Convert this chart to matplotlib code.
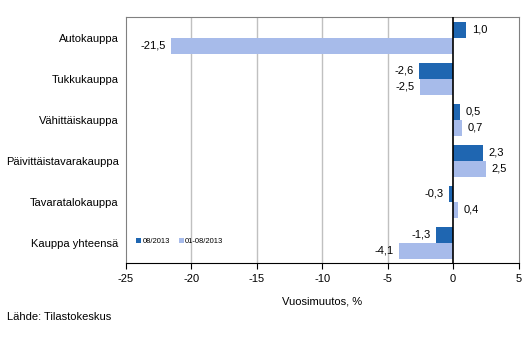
import matplotlib
matplotlib.use("Agg")
import matplotlib.pyplot as plt
import numpy as np

plt.rcParams['font.family'] = ['Liberation Sans', 'DejaVu Sans']

categories = ["Autokauppa", "Tukkukauppa", "Vähittäiskauppa",
              "Päivittäistavarakauppa", "Tavaratalokauppa", "Kauppa yhteensä"]
month_vals = [1.0, -2.6, 0.5, 2.3, -0.3, -1.3]
ytd_vals = [-21.5, -2.5, 0.7, 2.5, 0.4, -4.1]
series_names = ["08/2013", "01-08/2013"]
xticks = [-25, -20, -15, -10, -5, 0, 5]

dark = "#1F66B1"
light = "#A7BBEA"

fig = plt.figure(figsize=(5.32, 3.58), dpi=100)
ax = fig.add_axes([0.236, 0.265, 0.739, 0.687])

y = np.arange(len(categories))
h = 0.39
b1 = ax.barh(y - h / 2, month_vals, height=h, color=dark, label=series_names[0], zorder=3)
b2 = ax.barh(y + h / 2, ytd_vals, height=h, color=light, label=series_names[1], zorder=3)


def fmt(v):
    return f"{v:.1f}".replace(".", ",")


for bars, vals in ((b1, month_vals), (b2, ytd_vals)):
    for bar, v in zip(bars, vals):
        yc = bar.get_y() + bar.get_height() / 2
        if v >= 0:
            ax.annotate(fmt(v), (v, yc), xytext=(4, 0), textcoords="offset points",
                        ha="left", va="center", fontsize=8)
        else:
            ax.annotate(fmt(v), (v, yc), xytext=(-4, 0), textcoords="offset points",
                        ha="right", va="center", fontsize=8)

ax.set_xlim(-25, 5)
ax.set_ylim(len(categories) - 0.5, -0.5)
ax.set_xticks(xticks)
ax.set_xticklabels([str(t) for t in xticks], fontsize=8)
ax.set_yticks(y)
ax.set_yticklabels(categories, fontsize=8)
ax.tick_params(axis="y", length=0, pad=5)
ax.tick_params(axis="x", direction="out", length=4, color="black")

for t in [-20, -15, -10, -5]:
    ax.axvline(t, color="#C0C0C0", lw=1, zorder=1)
ax.axvline(0, color="black", lw=1.2, zorder=4)

for s in ("top", "right", "left"):
    ax.spines[s].set_color("#808080")
ax.spines["bottom"].set_color("black")

ax.set_xlabel("Vuosimuutos, %", fontsize=8, labelpad=9)

leg = ax.legend(loc="lower left", bbox_to_anchor=(0.01, 0.045), ncol=2, frameon=False,
                fontsize=5.5, handlelength=0.6, handleheight=0.6, handletextpad=0.2,
                columnspacing=1.2)

fig.text(0.013, 0.107, "Lähde: Tilastokeskus", fontsize=8)

fig.savefig("out.png", dpi=100)
